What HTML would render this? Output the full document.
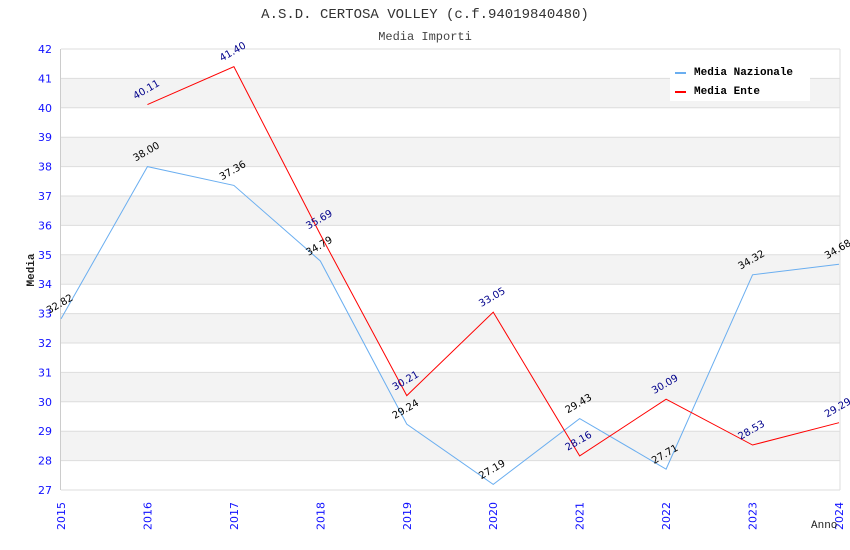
<!DOCTYPE html>
<html><head><meta charset="utf-8"><style>
body{margin:0;background:#fff;}
svg{display:block;font-family:"DejaVu Sans","Liberation Sans",sans-serif;}
</style></head><body>
<svg id="chart" width="850" height="550">
<text x="425" y="18" text-anchor="middle" font-family="'Liberation Mono',monospace" font-size="14" fill="#333">A.S.D. CERTOSA VOLLEY (c.f.94019840480)</text>
<text x="425" y="40" text-anchor="middle" font-family="'Liberation Mono',monospace" font-size="12" fill="#444">Media Importi</text>
<g id="grid"></g>
<g id="axes"></g>
<g id="series"></g>
<text x="0" y="0" transform="translate(34,270) rotate(-90)" text-anchor="middle" font-family="'Liberation Mono',monospace" font-size="11" font-weight="bold" fill="#222">Media</text>
<text x="811" y="528" font-family="'Liberation Mono',monospace" font-size="11" fill="#222">Anno</text>
<g>
<rect x="670" y="58" width="140" height="43" fill="#fff"/>
<g><rect x="675" y="72" width="11" height="2" fill="#6aaef0"/>
<text x="694" y="75" font-family="'Liberation Mono',monospace" font-size="11" font-weight="bold" fill="#000">Media Nazionale</text></g>
<g><rect x="675" y="91" width="11" height="2" fill="#f00"/>
<text x="694" y="94" font-family="'Liberation Mono',monospace" font-size="11" font-weight="bold" fill="#000">Media Ente</text></g>
</g>
</svg>
<script>
const years=[2015,2016,2017,2018,2019,2020,2021,2022,2023,2024];
const nazionale=[32.82,38.00,37.36,34.79,29.24,27.19,29.43,27.71,34.32,34.68];
const ente=[null,40.11,41.40,35.69,30.21,33.05,28.16,30.09,28.53,29.29];
const yTicks=[27,28,29,30,31,32,33,34,35,36,37,38,39,40,41,42];
const NS="http://www.w3.org/2000/svg";
const L=61,R=839,T=49,B=490,yMin=27,yMax=42;
const xs=i=>L+i*(R-L)/(years.length-1);
const ys=v=>B-(v-yMin)/(yMax-yMin)*(B-T);
function mk(tag,attrs,parent){const e=document.createElementNS(NS,tag);for(const k in attrs)e.setAttribute(k,attrs[k]);parent.appendChild(e);return e;}
const grid=document.getElementById('grid'),axes=document.getElementById('axes'),series=document.getElementById('series');
for(let t=yMin;t<yMax;t++){
  if((t-yMin)%2===1){const r=mk('rect',{x:L,y:ys(t+1),width:R-L+1,height:ys(t)-ys(t+1),fill:'#f3f3f3'},grid);
  
  }
}
yTicks.forEach(t=>{
  const l=mk('line',{x1:L,x2:R+1,y1:ys(t),y2:ys(t),stroke:'#ddd'},grid);
  
  
  const tx=mk('text',{x:L-9,y:ys(t)+4,'text-anchor':'end','font-size':'11',fill:'#11f'},axes);
  tx.textContent=t;
  
  
});
mk('line',{x1:L-0.5,x2:L-0.5,y1:T,y2:B,stroke:'#ccc'},axes);
mk('line',{x1:R+1,x2:R+1,y1:T,y2:B,stroke:'#ddd'},axes);
mk('line',{x1:L,x2:R+1,y1:T,y2:T,stroke:'#ddd'},axes);
years.forEach((y,i)=>{
  const tx=mk('text',{transform:`translate(${xs(i)+4},${530}) rotate(-90)`,'font-size':'11',fill:'#11f'},axes);
  tx.textContent=y;
  
  
});
function draw(vals,color,labelColor,name){
  const pts=[];vals.forEach((v,i)=>{if(v!==null)pts.push([xs(i),ys(v),v]);});
  const p=mk('polyline',{points:pts.map(p=>p[0]+','+p[1]).join(' '),fill:'none',stroke:color,'stroke-width':'1'},series);
  
  
  pts.forEach(q=>{
    const t=mk('text',{transform:`translate(${q[0]-12},${q[1]-5}) rotate(-30)`,'font-size':'10',fill:labelColor},series);
    t.textContent=q[2].toFixed(2);
    
    
  });
}
draw(nazionale,'#6aaef0','#000','nazionale');
draw(ente,'#f00','#00008b','ente');
</script>
</body></html>
